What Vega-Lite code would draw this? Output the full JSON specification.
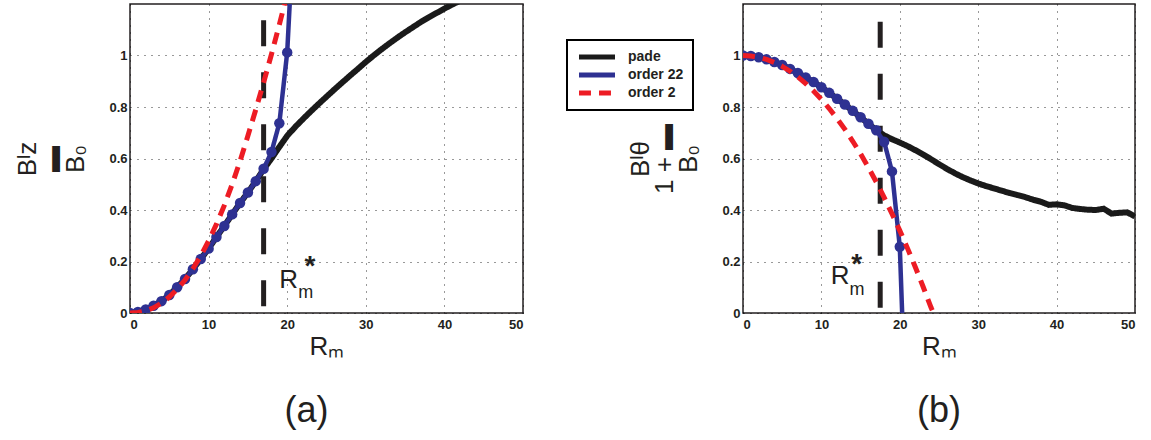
{
  "$schema": "https://vega.github.io/schema/vega-lite/v6.json",
  "padding": {"left": 14, "top": 3, "right": 5, "bottom": 0},
  "datasets": {
    "A": [
      {"s":"pade","x":0,"y":0},{"s":"pade","x":1,"y":0.004},{"s":"pade","x":2,"y":0.014},{"s":"pade","x":3,"y":0.028},{"s":"pade","x":4,"y":0.046},{"s":"pade","x":5,"y":0.07},{"s":"pade","x":6,"y":0.1},{"s":"pade","x":7,"y":0.132},{"s":"pade","x":8,"y":0.17},{"s":"pade","x":9,"y":0.21},{"s":"pade","x":10,"y":0.25},{"s":"pade","x":11,"y":0.295},{"s":"pade","x":12,"y":0.338},{"s":"pade","x":13,"y":0.383},{"s":"pade","x":14,"y":0.427},{"s":"pade","x":15,"y":0.468},{"s":"pade","x":16,"y":0.512},{"s":"pade","x":17,"y":0.558},{"s":"pade","x":18,"y":0.6},{"s":"pade","x":19,"y":0.645},{"s":"pade","x":20,"y":0.688},{"s":"pade","x":21,"y":0.722},{"s":"pade","x":22,"y":0.753},{"s":"pade","x":23,"y":0.783},{"s":"pade","x":24,"y":0.812},{"s":"pade","x":25,"y":0.84},{"s":"pade","x":26,"y":0.868},{"s":"pade","x":27,"y":0.895},{"s":"pade","x":28,"y":0.922},{"s":"pade","x":29,"y":0.948},{"s":"pade","x":30,"y":0.975},{"s":"pade","x":31,"y":1.0},{"s":"pade","x":32,"y":1.024},{"s":"pade","x":33,"y":1.047},{"s":"pade","x":34,"y":1.069},{"s":"pade","x":35,"y":1.09},{"s":"pade","x":36,"y":1.11},{"s":"pade","x":37,"y":1.13},{"s":"pade","x":38,"y":1.148},{"s":"pade","x":39,"y":1.165},{"s":"pade","x":40,"y":1.182},{"s":"pade","x":41,"y":1.198},{"s":"pade","x":42,"y":1.213},
      {"s":"order 22","x":0,"y":0},{"s":"order 22","x":1,"y":0.004},{"s":"order 22","x":2,"y":0.014},{"s":"order 22","x":3,"y":0.028},{"s":"order 22","x":4,"y":0.046},{"s":"order 22","x":5,"y":0.07},{"s":"order 22","x":6,"y":0.1},{"s":"order 22","x":7,"y":0.132},{"s":"order 22","x":8,"y":0.17},{"s":"order 22","x":9,"y":0.21},{"s":"order 22","x":10,"y":0.25},{"s":"order 22","x":11,"y":0.295},{"s":"order 22","x":12,"y":0.338},{"s":"order 22","x":13,"y":0.383},{"s":"order 22","x":14,"y":0.427},{"s":"order 22","x":15,"y":0.468},{"s":"order 22","x":16,"y":0.512},{"s":"order 22","x":17,"y":0.56},{"s":"order 22","x":18,"y":0.625},{"s":"order 22","x":19,"y":0.737},{"s":"order 22","x":20,"y":1.012},{"s":"order 22","x":21,"y":1.6},
      {"s":"order 2","x":0,"y":0},{"s":"order 2","x":1,"y":0.002},{"s":"order 2","x":2,"y":0.008},{"s":"order 2","x":3,"y":0.02},{"s":"order 2","x":4,"y":0.038},{"s":"order 2","x":5,"y":0.062},{"s":"order 2","x":6,"y":0.092},{"s":"order 2","x":7,"y":0.128},{"s":"order 2","x":8,"y":0.172},{"s":"order 2","x":9,"y":0.222},{"s":"order 2","x":10,"y":0.28},{"s":"order 2","x":11,"y":0.345},{"s":"order 2","x":12,"y":0.418},{"s":"order 2","x":13,"y":0.5},{"s":"order 2","x":14,"y":0.59},{"s":"order 2","x":15,"y":0.688},{"s":"order 2","x":16,"y":0.79},{"s":"order 2","x":17,"y":0.895},{"s":"order 2","x":18,"y":1.005},{"s":"order 2","x":19,"y":1.12},{"s":"order 2","x":20,"y":1.24}
    ],
    "B": [
      {"s":"pade","x":0,"y":1.0},{"s":"pade","x":1,"y":0.998},{"s":"pade","x":2,"y":0.993},{"s":"pade","x":3,"y":0.985},{"s":"pade","x":4,"y":0.975},{"s":"pade","x":5,"y":0.963},{"s":"pade","x":6,"y":0.948},{"s":"pade","x":7,"y":0.932},{"s":"pade","x":8,"y":0.915},{"s":"pade","x":9,"y":0.897},{"s":"pade","x":10,"y":0.877},{"s":"pade","x":11,"y":0.855},{"s":"pade","x":12,"y":0.832},{"s":"pade","x":13,"y":0.81},{"s":"pade","x":14,"y":0.785},{"s":"pade","x":15,"y":0.76},{"s":"pade","x":16,"y":0.735},{"s":"pade","x":17,"y":0.71},{"s":"pade","x":18,"y":0.69},{"s":"pade","x":19,"y":0.675},{"s":"pade","x":20,"y":0.662},{"s":"pade","x":21,"y":0.648},{"s":"pade","x":22,"y":0.632},{"s":"pade","x":23,"y":0.615},{"s":"pade","x":24,"y":0.597},{"s":"pade","x":25,"y":0.578},{"s":"pade","x":26,"y":0.56},{"s":"pade","x":27,"y":0.543},{"s":"pade","x":28,"y":0.528},{"s":"pade","x":29,"y":0.515},{"s":"pade","x":30,"y":0.503},{"s":"pade","x":31,"y":0.493},{"s":"pade","x":32,"y":0.484},{"s":"pade","x":33,"y":0.475},{"s":"pade","x":34,"y":0.466},{"s":"pade","x":35,"y":0.458},{"s":"pade","x":36,"y":0.45},{"s":"pade","x":37,"y":0.44},{"s":"pade","x":38,"y":0.432},{"s":"pade","x":39,"y":0.42},{"s":"pade","x":40,"y":0.422},{"s":"pade","x":41,"y":0.418},{"s":"pade","x":42,"y":0.408},{"s":"pade","x":43,"y":0.404},{"s":"pade","x":44,"y":0.401},{"s":"pade","x":45,"y":0.4},{"s":"pade","x":46,"y":0.405},{"s":"pade","x":47,"y":0.386},{"s":"pade","x":48,"y":0.389},{"s":"pade","x":49,"y":0.391},{"s":"pade","x":50,"y":0.375},
      {"s":"order 22","x":0,"y":1.0},{"s":"order 22","x":1,"y":0.998},{"s":"order 22","x":2,"y":0.993},{"s":"order 22","x":3,"y":0.985},{"s":"order 22","x":4,"y":0.975},{"s":"order 22","x":5,"y":0.963},{"s":"order 22","x":6,"y":0.948},{"s":"order 22","x":7,"y":0.932},{"s":"order 22","x":8,"y":0.915},{"s":"order 22","x":9,"y":0.897},{"s":"order 22","x":10,"y":0.877},{"s":"order 22","x":11,"y":0.855},{"s":"order 22","x":12,"y":0.832},{"s":"order 22","x":13,"y":0.81},{"s":"order 22","x":14,"y":0.785},{"s":"order 22","x":15,"y":0.76},{"s":"order 22","x":16,"y":0.735},{"s":"order 22","x":17,"y":0.71},{"s":"order 22","x":18,"y":0.665},{"s":"order 22","x":19,"y":0.55},{"s":"order 22","x":20,"y":0.257},{"s":"order 22","x":21,"y":-0.6},
      {"s":"order 2","x":0,"y":1.0},{"s":"order 2","x":1,"y":0.998},{"s":"order 2","x":2,"y":0.993},{"s":"order 2","x":3,"y":0.985},{"s":"order 2","x":4,"y":0.973},{"s":"order 2","x":5,"y":0.958},{"s":"order 2","x":6,"y":0.939},{"s":"order 2","x":7,"y":0.917},{"s":"order 2","x":8,"y":0.891},{"s":"order 2","x":9,"y":0.862},{"s":"order 2","x":10,"y":0.83},{"s":"order 2","x":11,"y":0.794},{"s":"order 2","x":12,"y":0.755},{"s":"order 2","x":13,"y":0.713},{"s":"order 2","x":14,"y":0.667},{"s":"order 2","x":15,"y":0.618},{"s":"order 2","x":16,"y":0.565},{"s":"order 2","x":17,"y":0.509},{"s":"order 2","x":18,"y":0.449},{"s":"order 2","x":19,"y":0.386},{"s":"order 2","x":20,"y":0.32},{"s":"order 2","x":21,"y":0.25},{"s":"order 2","x":22,"y":0.177},{"s":"order 2","x":23,"y":0.1},{"s":"order 2","x":24,"y":0.02},{"s":"order 2","x":24.3,"y":0}
    ]
  },
  "hconcat": [
    {
      "width": 393, "height": 309,
      "title": {"text": "(a)", "orient": "bottom", "fontSize": 36, "fontWeight": "normal", "font": "Liberation Sans", "offset": 35, "dx": -20, "color": "#231f20"},
      "data": {"name": "A"},
      "encoding": {
        "x": {"field": "x", "type": "quantitative", "scale": {"domain": [0, 50], "nice": false, "zero": false},
              "axis": {"values": [0, 10, 20, 30, 40, 50], "title": "R\u2098"}},
        "y": {"field": "y", "type": "quantitative", "scale": {"domain": [0, 1.2], "nice": false, "zero": false},
              "axis": {"values": [0, 0.2, 0.4, 0.6, 0.8, 1], "format": "~g", "title": ["B\u1d35z", "\u25ac", "B\u2080"]}}
      },
      "layer": [
        {"data": {"values": [{"x": 17, "y": 0.026, "y2": 1.147}]}, "mark": {"type": "rule", "strokeDash": [26, 26], "strokeWidth": 5, "color": "#231f20"}, "encoding": {"y2": {"field": "y2"}}},
        {"transform": [{"filter": "datum.s === 'pade'"}], "mark": {"type": "line", "strokeWidth": 6, "clip": true},
         "encoding": {"color": {"field": "s", "type": "nominal", "scale": {"domain": ["pade", "order 22", "order 2"], "range": ["#1a1a1a", "#2e3192", "#ed1c24"]}},
                      "strokeDash": {"field": "s", "type": "nominal", "scale": {"domain": ["pade", "order 22", "order 2"], "range": [[1, 0], [1, 0], [12, 8]]}}}},
        {"transform": [{"filter": "datum.s === 'order 22'"}], "mark": {"type": "line", "strokeWidth": 4.5, "clip": true},
         "encoding": {"color": {"field": "s", "type": "nominal"}, "strokeDash": {"field": "s", "type": "nominal"}}},
        {"transform": [{"filter": "datum.s === 'order 22'"}], "mark": {"type": "point", "filled": true, "size": 110, "opacity": 1, "clip": true, "color": "#2e3192"}, "encoding": {}},
        {"transform": [{"filter": "datum.s === 'order 2'"}], "mark": {"type": "line", "strokeWidth": 5, "clip": true},
         "encoding": {"color": {"field": "s", "type": "nominal"}, "strokeDash": {"field": "s", "type": "nominal"}}},
        {"data": {"values": [{"x": 19.0, "y": 0.096, "t": "R"}]}, "mark": {"type": "text", "fontSize": 26, "align": "left", "baseline": "alphabetic", "font": "Liberation Sans", "color": "#231f20"}, "encoding": {"text": {"field": "t"}}},
        {"data": {"values": [{"x": 21.4, "y": 0.057, "t": "m"}]}, "mark": {"type": "text", "fontSize": 18, "align": "left", "baseline": "alphabetic", "font": "Liberation Sans", "color": "#231f20"}, "encoding": {"text": {"field": "t"}}},
        {"data": {"values": [{"x": 22.2, "y": 0.147, "t": "*"}]}, "mark": {"type": "text", "fontSize": 28, "fontWeight": "bold", "align": "left", "baseline": "alphabetic", "font": "Liberation Sans", "color": "#231f20"}, "encoding": {"text": {"field": "t"}}}
      ]
    },
    {
      "width": 392, "height": 309,
      "title": {"text": "(b)", "orient": "bottom", "fontSize": 36, "fontWeight": "normal", "font": "Liberation Sans", "offset": 35, "color": "#231f20"},
      "data": {"name": "B"},
      "encoding": {
        "x": {"field": "x", "type": "quantitative", "scale": {"domain": [0, 50], "nice": false, "zero": false},
              "axis": {"values": [0, 10, 20, 30, 40, 50], "title": "R\u2098"}},
        "y": {"field": "y", "type": "quantitative", "scale": {"domain": [0, 1.2], "nice": false, "zero": false},
              "axis": {"values": [0, 0.2, 0.4, 0.6, 0.8, 1], "format": "~g", "title": ["\u00a0\u00a0\u00a0\u00a0\u00a0\u00a0B\u1d35\u03b8", "1 + \u25ac", "\u00a0\u00a0\u00a0\u00a0\u00a0\u00a0B\u2080"]}}
      },
      "layer": [
        {"data": {"values": [{"x": 17.5, "y": 0.02, "y2": 1.15}]}, "mark": {"type": "rule", "strokeDash": [26, 26], "strokeWidth": 5, "color": "#231f20"}, "encoding": {"y2": {"field": "y2"}}},
        {"transform": [{"filter": "datum.s === 'pade'"}], "mark": {"type": "line", "strokeWidth": 6, "clip": true},
         "encoding": {"color": {"field": "s", "type": "nominal"}, "strokeDash": {"field": "s", "type": "nominal"}}},
        {"transform": [{"filter": "datum.s === 'order 22'"}], "mark": {"type": "line", "strokeWidth": 4.5, "clip": true},
         "encoding": {"color": {"field": "s", "type": "nominal"}, "strokeDash": {"field": "s", "type": "nominal"}}},
        {"transform": [{"filter": "datum.s === 'order 22'"}], "mark": {"type": "point", "filled": true, "size": 110, "opacity": 1, "clip": true, "color": "#2e3192"}, "encoding": {}},
        {"transform": [{"filter": "datum.s === 'order 2'"}], "mark": {"type": "line", "strokeWidth": 5, "clip": true},
         "encoding": {"color": {"field": "s", "type": "nominal"}, "strokeDash": {"field": "s", "type": "nominal"}}},
        {"data": {"values": [{"x": 11.2, "y": 0.113, "t": "R"}]}, "mark": {"type": "text", "fontSize": 26, "align": "left", "baseline": "alphabetic", "font": "Liberation Sans", "color": "#231f20"}, "encoding": {"text": {"field": "t"}}},
        {"data": {"values": [{"x": 13.6, "y": 0.07, "t": "m"}]}, "mark": {"type": "text", "fontSize": 18, "align": "left", "baseline": "alphabetic", "font": "Liberation Sans", "color": "#231f20"}, "encoding": {"text": {"field": "t"}}},
        {"data": {"values": [{"x": 13.8, "y": 0.155, "t": "*"}]}, "mark": {"type": "text", "fontSize": 28, "fontWeight": "bold", "align": "left", "baseline": "alphabetic", "font": "Liberation Sans", "color": "#231f20"}, "encoding": {"text": {"field": "t"}}}
      ]
    }
  ],
  "spacing": 103,
  "resolve": {"scale": {"color": "shared", "strokeDash": "shared"}, "legend": {"color": "shared", "strokeDash": "shared"}},
  "config": {
    "font": "Liberation Sans",
    "view": {"stroke": "#231f20", "strokeWidth": 1.5},
    "axis": {
      "domain": false, "ticks": false,
      "grid": true, "gridDash": [1, 6], "gridColor": "#000", "gridOpacity": 0.8, "gridWidth": 1,
      "labelFont": "Liberation Sans", "labelFontWeight": "bold", "labelFontSize": 13, "labelColor": "#231f20",
      "titleFont": "Liberation Sans", "titleFontWeight": "normal", "titleFontSize": 26, "titleColor": "#231f20", "titleLineHeight": 24
    },
    "axisX": {"labelPadding": 5, "titlePadding": 2},
    "axisY": {"labelPadding": 3, "titlePadding": 20},
    "legend": {
      "orient": "none", "legendX": 437, "legendY": 36, "title": null,
      "strokeColor": "#000", "strokeWidth": 2, "padding": 9, "fillColor": "#fff",
      "labelFont": "Liberation Sans", "labelFontSize": 14, "labelFontWeight": "bold", "labelColor": "#231f20", "labelOffset": 10,
      "symbolType": "stroke", "symbolSize": 1300, "symbolStrokeWidth": 5, "clipHeight": 16, "rowPadding": 2
    }
  }
}
